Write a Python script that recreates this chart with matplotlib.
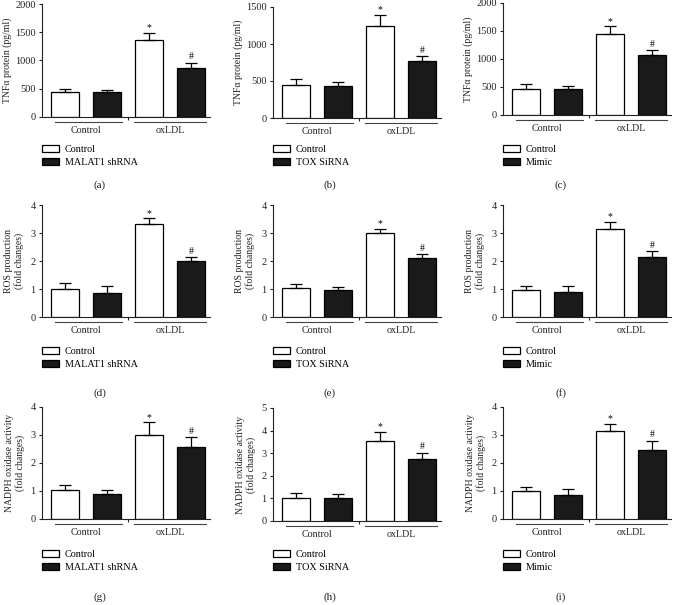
import numpy as np
import matplotlib.pyplot as plt
from matplotlib.transforms import offset_copy

plt.rcParams['font.family'] = ['Liberation Serif', 'DejaVu Serif']

W, H = 674, 605

# === Data ===
groups = ["Control", "oxLDL"]
treatments = ["MALAT1 shRNA", "TOX SiRNA", "Mimic"]
panel_tags = ["(a)", "(b)", "(c)", "(d)", "(e)", "(f)", "(g)", "(h)", "(i)"]

# bar order: Control/Control, Control/treatment, oxLDL/Control, oxLDL/treatment
tnf_a = [435, 435, 1369, 875]
tnf_a_err = [65, 41, 113, 83]
tnf_b = [446, 438, 1250, 768]
tnf_b_err = [76, 44, 147, 71]
tnf_c = [470, 458, 1452, 1077]
tnf_c_err = [78, 60, 131, 78]

ros_d = [1.00, 0.87, 3.31, 1.99]
ros_d_err = [0.21, 0.24, 0.21, 0.15]
ros_e = [1.04, 0.95, 3.00, 2.10]
ros_e_err = [0.14, 0.13, 0.14, 0.15]
ros_f = [0.98, 0.90, 3.15, 2.14]
ros_f_err = [0.12, 0.20, 0.24, 0.21]

nox_g = [1.02, 0.90, 3.00, 2.56]
nox_g_err = [0.21, 0.12, 0.45, 0.36]
nox_h = [1.02, 1.02, 3.56, 2.75]
nox_h_err = [0.22, 0.18, 0.39, 0.27]
nox_i = [1.00, 0.86, 3.15, 2.46]
nox_i_err = [0.13, 0.20, 0.24, 0.34]

ylabels = ["TNF\u03b1 protein (pg/ml)",
           "ROS production\n(fold changes)",
           "NADPH oxidase activity\n(fold changes)"]
yticks_tnf_a = [0, 500, 1000, 1500, 2000]
yticks_tnf_b = [0, 500, 1000, 1500]
yticks_4 = [0, 1, 2, 3, 4]
yticks_5 = [0, 1, 2, 3, 4, 5]

panels = [
    (tnf_a, tnf_a_err, yticks_tnf_a), (tnf_b, tnf_b_err, yticks_tnf_b), (tnf_c, tnf_c_err, yticks_tnf_a),
    (ros_d, ros_d_err, yticks_4), (ros_e, ros_e_err, yticks_4), (ros_f, ros_f_err, yticks_4),
    (nox_g, nox_g_err, yticks_4), (nox_h, nox_h_err, yticks_5), (nox_i, nox_i_err, yticks_4),
]

# === Layout in pixels ===
col_x = [42, 273, 503]
row_top = [[4, 7, 3], [205, 205, 205], [407, 408, 407]]
row_zero = [[117, 118, 115], [317, 317, 317], [519, 521, 519]]
ax_w = 168
legend_y = [145, 347, 550]
caption_y = [185, 393, 597]
caption_x = [100, 330, 561]
ylabel_x = [-0.18, -0.11, -0.10]

bar_pos = np.arange(4)
bar_colors = ["white", "#1a1a1a", "white", "#1a1a1a"]

fig = plt.figure(figsize=(W / 100, H / 100), dpi=100)

for i, (vals, errs, yt) in enumerate(panels):
    r, c = divmod(i, 3)
    top, zero = row_top[r][c], row_zero[r][c]
    ax = fig.add_axes([col_x[c] / W, 1 - zero / H, ax_w / W, (zero - top) / H])

    bars = ax.bar(bar_pos, vals, width=0.68, color=bar_colors,
                  edgecolor="black", linewidth=0.9, zorder=2)
    ax.errorbar(bar_pos, vals, yerr=[np.zeros(4), errs], fmt="none",
                ecolor="black", elinewidth=0.9, capsize=4.5, capthick=0.9, zorder=3)
    ax.annotate("*", xy=(2, vals[2] + errs[2]), xytext=(0, 0.5),
                textcoords="offset points", ha="center", va="bottom", fontsize=7)
    ax.annotate("#", xy=(3, vals[3] + errs[3]), xytext=(0, 1),
                textcoords="offset points", ha="center", va="bottom", fontsize=7)

    ax.set_xlim(-0.55, 3.45)
    ax.set_ylim(yt[0], yt[-1])
    ax.set_yticks(yt)
    ax.spines["top"].set_visible(False)
    ax.spines["right"].set_visible(False)
    for s in ("left", "bottom"):
        ax.spines[s].set_linewidth(0.8)
        ax.spines[s].set_color("#222222")
    ax.tick_params(axis="y", length=2.5, width=0.8, pad=2, labelsize=7.5,
                   colors="#222222", direction="out")

    # group labels under the axis
    ax.set_xticks([0.5, 2.5])
    ax.set_xticklabels(groups)
    ax.set_xticks([1.5], minor=True)
    ax.tick_params(axis="x", which="major", length=0, pad=6.5, labelsize=7.2,
                   colors="#222222")
    ax.tick_params(axis="x", which="minor", length=2, width=0.8, color="#222222")
    line_tr = offset_copy(ax.get_xaxis_transform(), fig=fig, x=0, y=-5, units="dots")
    ax.plot([-0.25, 1.35], [0, 0], color="#444444", lw=0.8, transform=line_tr, clip_on=False)
    ax.plot([1.65, 3.35], [0, 0], color="#444444", lw=0.8, transform=line_tr, clip_on=False)

    ax.set_ylabel(ylabels[r], fontsize=7, color="#222222", linespacing=1.1)
    ax.yaxis.set_label_coords(ylabel_x[r], 0.5)

    fig.legend(bars[:2], ["Control", treatments[c]],
               loc="upper left", bbox_to_anchor=(col_x[c] / W, 1 - legend_y[r] / H),
               frameon=False, fontsize=7.3, borderpad=0, borderaxespad=0,
               handlelength=1.65, handleheight=0.72, handletextpad=0.6,
               labelspacing=0.35)

    fig.text(caption_x[c] / W, 1 - caption_y[r] / H, panel_tags[i],
             ha="center", va="center", fontsize=8, color="#222222")

fig.savefig("out.png", dpi=100)
